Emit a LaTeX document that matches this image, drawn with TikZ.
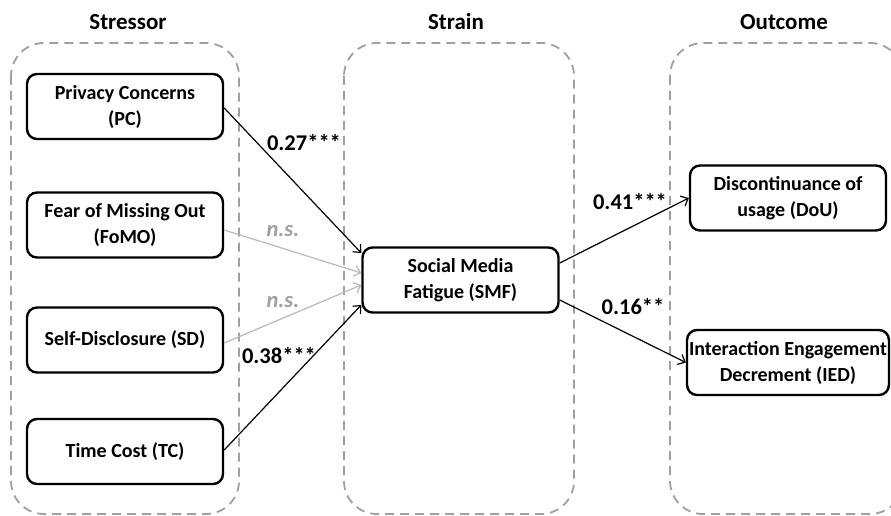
\documentclass[tikz,border=0pt]{standalone}
\usepackage{fontspec}
\setmainfont{Carlito}
\usetikzlibrary{arrows.meta}

\definecolor{dashgrey}{RGB}{160,160,160}
\definecolor{nsline}{RGB}{185,185,185}
\definecolor{nstext}{RGB}{160,160,160}

\begin{document}
\begin{tikzpicture}[x=1pt,y=-1pt,
    font=\fontsize{20}{26}\selectfont\bfseries,
    stage/.style={draw=dashgrey, line width=1.8pt, dash pattern=on 9pt off 6pt, rounded corners=33pt},
    title/.style={font=\fontsize{23}{28}\selectfont\bfseries},
    varbox/.style={draw, line width=2.4pt, rounded corners=10pt, minimum width=196pt, minimum height=65pt, align=center, inner sep=2pt},
    sig/.style={-{Straight Barb[length=6pt,width=11pt]}, line width=1.2pt},
    nonsig/.style={sig, draw=nsline},
    coef/.style={inner sep=0pt, font=\fontsize{22.5}{27}\selectfont\bfseries},
    nscoef/.style={coef, text=nstext, font=\fontsize{22.5}{27}\selectfont\bfseries\itshape}]

        \useasboundingbox (0,0) rectangle (891,516);
        \clip (0,0) rectangle (891,516);

        % Dashed stage containers
        \draw[stage] (11,43) rectangle (239,514);
        \draw[stage] (344,43) rectangle (574,514);
        \draw[stage] (670,43) rectangle (903,514);

        % Stage titles
        \node[title] (stressor) at (128,22) {Stressor};
        \node[title] (strain) at (456,22) {Strain};
        \node[title] (outcome) at (784,22) {Outcome};

        % Stressors
        \node[varbox] (pc) at (125,106.5) {Privacy Concerns\\(PC)};
        \node[varbox] (fomo) at (125,225) {Fear of Missing Out\\(FoMO)};
        \node[varbox] (sd) at (125,340) {Self-Disclosure (SD)};
        \node[varbox] (tc) at (125,451.5) {Time Cost (TC)};

        % Strain
        \node[varbox] (smf) at (460.5,280) {Social Media\\Fatigue (SMF)};

        % Outcomes
        \node[varbox] (dou) at (788,198) {Discontinuance of\\usage (DoU)};
        \node[varbox] (ied) at (788,362.5) {Interaction Engagement\\Decrement (IED)};

        % Paths into the strain
        \draw[sig] ([yshift=-1.5pt]pc.east) -- ([yshift=27pt]smf.west);
        \draw[nonsig] ([yshift=-5pt]fomo.east) -- ([yshift=7pt]smf.west);
        \draw[nonsig] ([yshift=-3pt]sd.east) -- ([yshift=-5pt]smf.west);
        \draw[sig] ([yshift=1.5pt]tc.east) -- ([yshift=-25pt]smf.west);

        % Paths out of the strain
        \draw[sig] ([yshift=17pt]smf.east) -- (dou.west);
        \draw[sig] ([yshift=-20pt]smf.east) -- (ied.west);

        % Path coefficients
        \node[coef] (cpc) at (304,143) {0.27***};
        \node[nscoef] (cfomo) at (283,231) {n.s.};
        \node[nscoef] (csd) at (283,302) {n.s.};
        \node[coef] (ctc) at (279,356) {0.38***};
        \node[coef] (cdou) at (630,202) {0.41***};
        \node[coef] (cied) at (633,307) {0.16**};
      \end{tikzpicture}
\end{document}
